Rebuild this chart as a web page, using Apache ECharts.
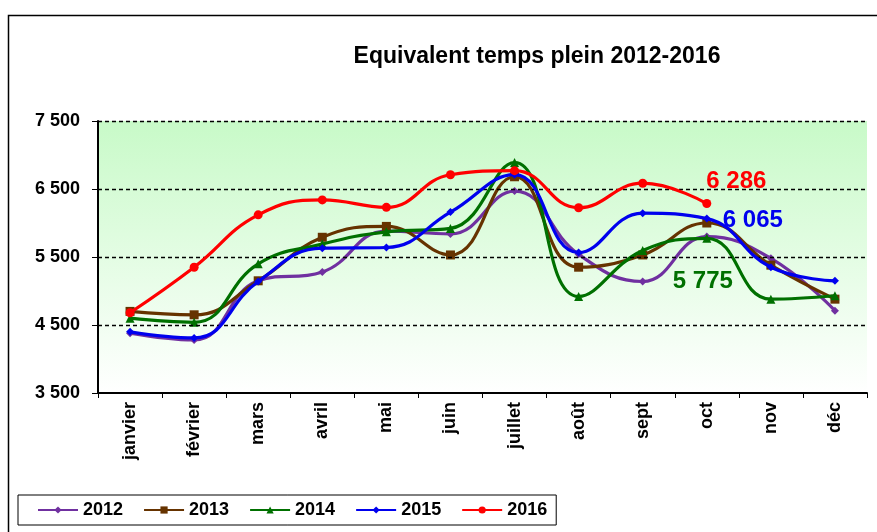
<!DOCTYPE html>
<html>
<head>
<meta charset="utf-8">
<script src="https://cdn.jsdelivr.net/npm/echarts@6/dist/echarts.min.js"></script>
<style>
html,body{margin:0;padding:0;background:#fff;}
#chart{width:877px;height:532px;}
</style>
</head>
<body>
<div id="chart"></div>
<script>
const months = ['janvier','février','mars','avril','mai','juin','juillet','août','sept','oct','nov','déc'];
const years = ['2012','2013','2014','2015','2016'];
const v2012 = [4380, 4280, 5150, 5280, 5880, 5840, 6470, 5540, 5140, 5800, 5480, 4710];
const v2013 = [4700, 4650, 5150, 5790, 5950, 5530, 6680, 5350, 5530, 6000, 5380, 4880];
const v2014 = [4600, 4540, 5400, 5690, 5870, 5920, 6890, 4920, 5595, 5775, 4880, 4930];
const v2015 = [4400, 4310, 5140, 5630, 5640, 6160, 6710, 5565, 6145, 6065, 5350, 5150];
const v2016 = [4680, 5350, 6120, 6340, 6230, 6710, 6770, 6225, 6585, 6286];
const yTicks = [3500, 4500, 5500, 6500, 7500];

const FONT = 'Liberation Sans, Arial, sans-serif';
const colors = ['#7030A0', '#663300', '#007000', '#0000EE', '#FF0000'];
const symbols = ['diamond', 'rect', 'triangle', 'diamond', 'circle'];
const symbolSizes = [8, 9, 9, 8, 9];
const allData = [v2012, v2013, v2014, v2015, v2016];

function fmt(v){ return String(v).replace(/\B(?=(\d{3})+(?!\d))/g, ' '); }

// end-of-data labels (october)
const labelCfg = {
  2: {position: 'bottom', distance: 27, offset: [-4, 0]},
  3: {position: 'right', distance: 12, offset: [0, 2]},
  4: {position: 'right', distance: 0, offset: [-5, -22]}
};

const series = years.map((y, i) => ({
  name: y,
  type: 'line',
  smooth: 0.45,
  symbol: symbols[i],
  symbolSize: symbolSizes[i],
  lineStyle: {width: 3.2, color: colors[i]},
  itemStyle: {color: colors[i]},
  z: 2 + i,
  data: allData[i].map((v, j) => {
    if (j === 9 && labelCfg[i]) {
      return {value: v, label: Object.assign({
        show: true, formatter: fmt(v), color: colors[i],
        fontSize: 24, fontWeight: 'bold', fontFamily: FONT
      }, labelCfg[i])};
    }
    return v;
  })
}));

// dashed gridlines
series.push({
  type: 'line', data: [], silent: true, z: 1,
  markLine: {
    silent: true, symbol: 'none', label: {show: false},
    lineStyle: {color: '#000', type: [4, 3], width: 1.3},
    data: yTicks.slice(1).map(t => ({yAxis: t}))
  }
});

const chart = echarts.init(document.getElementById('chart'), null, {renderer: 'canvas'});
chart.setOption({
  animation: false,
  textStyle: {fontFamily: FONT},
  title: {
    text: 'Equivalent temps plein 2012-2016',
    left: 532, top: 40, textAlign: 'center',
    textStyle: {fontSize: 23, fontWeight: 'bold', color: '#000', fontFamily: FONT}
  },
  graphic: [{
    type: 'polyline', silent: true,
    shape: {points: [[8.5, 540], [8.5, 15.5], [880, 15.5]]},
    style: {stroke: '#000', lineWidth: 1.5, fill: null}
  }],
  legend: {
    data: years,
    left: 18, top: 495,
    orient: 'horizontal',
    itemWidth: 40, itemHeight: 9, itemGap: 20,
    padding: [6, 9, 6, 19],
    borderColor: '#000', borderWidth: 1,
    textStyle: {fontSize: 18, fontWeight: 'bold', color: '#000', fontFamily: FONT}
  },
  grid: {
    left: 98, right: 10, top: 121, bottom: 139,
    show: true, borderWidth: 0,
    backgroundColor: {
      type: 'linear', x: 0, y: 0, x2: 0, y2: 1,
      colorStops: [{offset: 0, color: '#C8FAC8'}, {offset: 1, color: '#FFFFFF'}]
    }
  },
  xAxis: {
    type: 'category', data: months, boundaryGap: true,
    axisLine: {lineStyle: {color: '#000', width: 2}},
    axisTick: {show: true, length: 5, lineStyle: {color: '#000', width: 1}},
    axisLabel: {rotate: 90, fontSize: 18, fontWeight: 'bold', color: '#000', margin: 9, fontFamily: FONT}
  },
  yAxis: {
    type: 'value', min: 3500, max: 7500, interval: 1000,
    axisLine: {show: true, lineStyle: {color: '#000', width: 2}},
    axisTick: {show: true, length: 6, lineStyle: {color: '#000'}},
    splitLine: {show: false},
    axisLabel: {fontSize: 18, fontWeight: 'bold', color: '#000', margin: 18, fontFamily: FONT, formatter: v => fmt(v)}
  },
  series: series
});
</script>
</body>
</html>
